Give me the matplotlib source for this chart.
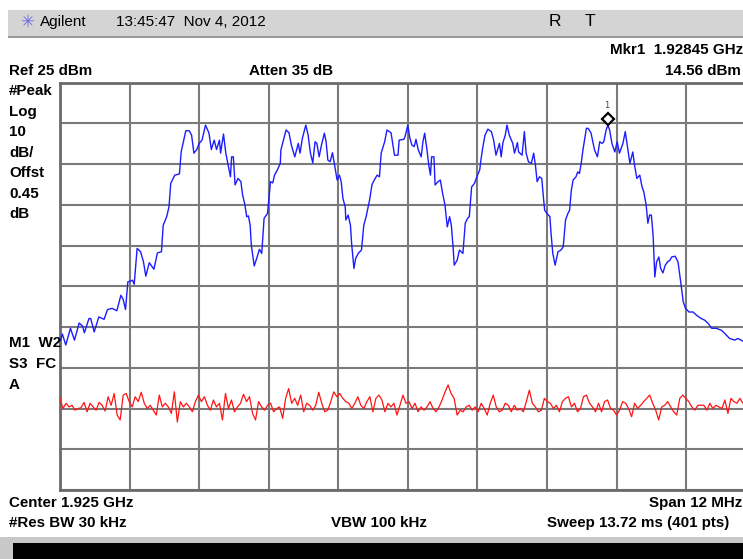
import numpy as np
import matplotlib
matplotlib.use("Agg")
import matplotlib.pyplot as plt
from matplotlib.patches import Rectangle
from matplotlib.transforms import offset_copy

W, H = 743, 559

# ---- instrument settings ----
ref_level = 25.0      # dBm (top of screen)
db_per_div = 10.0
n_div = 10
span_mhz = 12.0       # 1.919 .. 1.931 GHz

# ---- trace 1 (blue): frequency offset from 1.919 GHz in MHz, level in dBm ----
blue_f = [0.01, 0.04, 0.10, 0.18, 0.25, 0.33, 0.39, 0.42, 0.50, 0.53,
          0.59, 0.67, 0.76, 0.82, 0.90, 0.98, 1.05, 1.09, 1.13, 1.17,
          1.25, 1.28, 1.33, 1.39, 1.44, 1.48, 1.54, 1.62, 1.68, 1.75,
          1.78, 1.84, 1.88, 1.91, 1.98, 2.06, 2.09, 2.17, 2.23, 2.27,
          2.31, 2.36, 2.40, 2.45, 2.51, 2.57, 2.61, 2.66, 2.70, 2.75,
          2.77, 2.82, 2.86, 2.90, 2.94, 2.96,
          2.99, 3.02, 3.07, 3.12, 3.15, 3.19, 3.22, 3.25, 3.28, 3.30,
          3.35, 3.40, 3.44, 3.48, 3.52, 3.58, 3.63, 3.67, 3.70, 3.75,
          3.80, 3.81, 3.90, 3.95, 3.99, 4.05, 4.11, 4.14, 4.18, 4.24,
          4.28, 4.32, 4.36, 4.40, 4.43, 4.47, 4.51, 4.56, 4.59, 4.62,
          4.66, 4.70, 4.74, 4.78, 4.82, 4.85, 4.88, 4.92, 4.93, 4.97,
          5.01, 5.03, 5.07, 5.10, 5.15, 5.20, 5.24, 5.28, 5.34, 5.38,
          5.42, 5.47, 5.51, 5.54, 5.60, 5.64, 5.71, 5.77, 5.83, 5.85,
          5.93, 5.95, 6.00, 6.03, 6.07, 6.11, 6.14, 6.18, 6.23, 6.26,
          6.29, 6.33, 6.36, 6.39, 6.41, 6.45, 6.47, 6.52, 6.56, 6.60,
          6.64, 6.68, 6.72, 6.75, 6.78, 6.80, 6.85, 6.89, 6.95, 6.99,
          7.03, 7.06, 7.10, 7.15, 7.19, 7.24, 7.26, 7.29, 7.33, 7.38,
          7.44, 7.48, 7.52, 7.58, 7.61, 7.64, 7.68, 7.71, 7.75, 7.81,
          7.84, 7.89, 7.91, 7.97, 8.01, 8.04, 8.08, 8.13, 8.17, 8.20,
          8.23, 8.27, 8.31, 8.34, 8.36, 8.40, 8.45, 8.47, 8.50, 8.54,
          8.59, 8.64, 8.68, 8.72, 8.76,
          8.79, 8.82, 8.85, 8.90, 8.93, 8.96, 8.99, 9.02, 9.08, 9.11,
          9.16, 9.22, 9.27, 9.31, 9.35, 9.38, 9.42, 9.45, 9.48, 9.52,
          9.57, 9.61, 9.65, 9.71, 9.75, 9.78, 9.83, 9.88, 9.91, 9.95,
          10.00, 10.04, 10.07, 10.11, 10.14, 10.17, 10.20, 10.23, 10.26, 10.29,
          10.33, 10.36, 10.40, 10.44, 10.48, 10.52, 10.55, 10.61, 10.66, 10.71,
          10.75, 10.79, 10.85, 10.92, 10.98, 11.06, 11.12, 11.18, 11.24, 11.32,
          11.41, 11.47, 11.55, 11.64, 11.69, 11.75, 11.78]
blue_db = [-38.2, -36.7, -39.4, -35.3, -38.2, -34.0, -34.8, -36.4, -32.9, -32.9,
           -36.2, -32.5, -33.1, -30.7, -30.4, -31.0, -27.2, -28.2, -30.7, -23.9,
           -23.5, -24.5, -15.7, -16.5, -19.0, -22.5, -19.2, -20.8, -16.8, -16.5,
           -10.0, -7.9, -5.5, 0.3, 2.3, 2.6, 8.0, 13.2, 13.2, 12.1,
           7.7, 8.6, 10.1, 10.9, 14.6, 12.6, 8.6, 10.9, 8.6, 10.9,
           7.7, 12.4, 7.7, 4.8, 1.9, 6.8,
           6.8, -0.1, 1.5, 0.7, -2.6, -5.0, -7.9, -7.7, -10.0, -14.9,
           -20.0, -17.8, -15.9, -16.9, -8.3, -7.1, 0.7, 0.4, 2.3, 3.6,
           5.2, 8.5, 13.4, 12.7, 9.7, 6.8, 10.1, 7.7, 11.3, 14.6,
           12.1, 7.7, 5.3, 10.5, 10.1, 6.8, 9.7, 12.6, 10.5, 6.0,
           5.6, 7.8, 4.4, 1.1, 2.3, 0.7, -3.4, -5.5, -8.7, -7.5,
           -10.0, -14.5, -20.6, -18.1, -16.8, -16.1, -10.0, -7.9, -3.8, -0.1,
           1.1, 2.3, 1.9, 7.7, 10.5, 13.4, 12.7, 7.2, 7.2, 10.9,
           11.1, 11.7, 14.6, 11.7, 9.7, 9.3, 11.1, 8.5, 6.8, 10.5,
           12.6, 8.5, 4.8, 2.3, 6.8, 6.8, -0.1, 0.7, 1.1, -2.2,
           -5.0, -10.4, -7.9, -10.0, -15.3, -19.8, -18.6, -16.1, -16.9, -9.5,
           -8.3, -7.9, -0.6, 0.3, 1.9, 3.6, 6.0, 8.9, 12.1, 13.6,
           13.0, 10.9, 7.2, 10.1, 6.8, 10.3, 12.1, 14.6, 12.1, 10.1,
           7.7, 10.3, 8.0, 7.2, 13.0, 7.7, 5.6, 5.2, 7.7, 4.8,
           0.7, 1.9, 1.5, -3.4, -6.3, -7.1, -7.9, -12.0, -16.9, -19.8,
           -16.5, -16.1, -15.3, -8.7, -7.1,
           -6.3, -1.4, 1.1, 1.9, 3.1, 2.7, 5.2, 8.5, 13.8, 13.8,
           12.6, 8.5, 6.8, 10.5, 10.1, 10.5, 13.4, 14.56, 13.4, 10.1,
           8.0, 10.5, 7.7, 10.1, 13.0, 10.1, 5.2, 8.0, 4.8, 1.5,
           2.3, -0.6, -1.8, -5.0, -9.5, -7.5, -7.5, -12.4, -22.7, -19.0,
           -17.8, -20.6, -21.7, -19.8, -19.0, -18.6, -17.8, -17.6, -19.0, -24.3,
           -28.8, -30.4, -31.3, -31.3, -32.1, -32.9, -33.3, -34.1, -35.3, -35.3,
           -35.8, -36.6, -37.8, -38.2, -37.8, -38.2, -38.5]

# ---- trace 2 (red): levels in dBm across the visible sweep ----
red_db = [-52.5, -55.0, -53.7, -54.6, -54.2, -55.4, -55.0, -54.8, -53.5, -55.8,
          -53.7, -54.6, -55.4, -53.5, -54.2, -55.6, -52.1, -54.2, -51.3, -56.6,
          -57.8, -51.7, -51.3, -53.3, -54.6, -52.1, -53.3, -51.0, -53.7, -55.0,
          -54.2, -55.4, -56.6, -51.7, -54.6, -53.7, -54.6, -56.2, -50.9, -58.3,
          -53.3, -54.6, -53.7, -54.6, -55.8, -53.3, -51.7, -53.3, -52.1, -54.2,
          -55.4, -52.9, -54.6, -53.7, -57.8, -51.3, -55.0, -52.9, -55.8, -54.6,
          -53.7, -51.5, -53.3, -52.1, -56.2, -57.8, -53.3, -54.6, -55.4, -54.2,
          -53.7, -55.8,
          -55.0, -54.6, -57.4, -52.5, -50.1, -53.7, -52.5, -54.2, -51.7, -55.8,
          -53.7, -54.2, -55.4, -54.2, -51.0, -53.7, -55.8, -55.4, -53.3, -50.9,
          -52.1, -51.3, -52.5, -53.3, -53.7, -55.0, -53.7, -52.1, -54.2, -55.0,
          -53.3, -52.1, -55.8, -52.5, -51.7, -52.9, -55.8, -53.7, -54.6, -53.7,
          -56.6, -54.2, -51.7, -53.7, -53.3, -55.0, -53.7, -55.8, -54.6, -55.4,
          -54.6, -53.3, -55.0, -55.8, -54.6, -52.9, -50.9, -49.2, -51.3, -52.5,
          -56.6, -55.4, -55.8, -54.6, -54.2, -55.4, -54.6, -55.8, -53.7, -55.0,
          -56.6, -53.7, -51.7, -54.6, -55.8, -55.4, -53.7, -54.2, -55.8,
          -54.2, -55.4, -55.0, -55.8, -53.3, -50.5, -53.7, -54.6, -55.8, -55.4,
          -52.5, -53.3, -53.7, -55.0, -54.2, -55.8, -53.3, -52.5, -52.1, -54.6,
          -53.7, -55.8, -55.0, -52.1, -51.7, -53.7, -54.6, -55.8, -53.7, -55.8,
          -53.3, -52.9, -55.0, -55.4, -56.6, -55.4, -53.3, -53.7, -55.0, -57.0,
          -53.7, -55.0, -54.2, -53.3, -52.5, -51.7, -53.7, -55.4, -57.8, -54.6,
          -54.2, -53.3, -54.6, -55.8, -56.6, -52.5, -51.7, -52.5, -53.3, -54.6,
          -55.4, -54.2, -54.2, -54.2, -55.4, -53.7, -55.0, -54.2, -54.6, -55.0,
          -52.9, -56.2, -52.5, -53.3, -53.7, -52.5, -53.7]
red_f_start, red_f_end = 0.0, 11.78

marker_f = 9.45       # 1.92845 GHz
marker_db = 14.56

# ---- figure ----
fig = plt.figure(figsize=(W / 100, H / 100), dpi=100)
fig.patch.set_facecolor("white")

def fx(x):
    return x / W

def fy(y):
    return 1 - y / H

def rect(x0, y0, x1, y1, color):
    fig.patches.append(Rectangle((fx(x0), fy(y1)), (x1 - x0) / W, (y1 - y0) / H,
                                 transform=fig.transFigure, facecolor=color,
                                 edgecolor="none", zorder=0))

# header bar
rect(8, 10, 743, 37, "#d4d4d4")
rect(8, 36, 743, 38, "#9a9a9a")
# bottom status bar
rect(0, 537, 743, 559, "#c8c8c8")
rect(13, 543, 743, 559, "#000000")

FONT = "Liberation Sans"
hdr = dict(fontsize=11, family=FONT, va="center", color="black")
fig.text(fx(20), fy(22), "\u2733", fontsize=12, family="DejaVu Sans",
         color="#6a6ae8", va="center")
fig.text(fx(40), fy(22), "Agilent", **hdr)
fig.text(fx(116), fy(22), "13:45:47  Nov 4, 2012", **hdr)
fig.text(fx(549), fy(22), "R", fontsize=12.5, family=FONT, va="center")
fig.text(fx(585), fy(22), "T", fontsize=12.5, family=FONT, va="center")

b = dict(fontsize=10.9, family=FONT, weight="bold", va="center", color="black")
fig.text(fx(743), fy(50), "Mkr1  1.92845 GHz", ha="right", **b)
fig.text(fx(9), fy(71), "Ref 25 dBm", **b)
fig.text(fx(249), fy(71), "Atten 35 dB", **b)
fig.text(fx(741), fy(71), "14.56 dBm", ha="right", **b)
for yy, s in [(91, "#Peak"), (112, "Log"), (132, "10"), (153, "dB/"),
              (173, "Offst"), (194, "0.45"), (214, "dB")]:
    fig.text(fx(9), fy(yy), s, **b)
fig.text(fx(9), fy(343), "M1  W2", **b)
fig.text(fx(9), fy(364), "S3  FC", **b)
fig.text(fx(9), fy(385), "A", **b)
fig.text(fx(9), fy(503), "Center 1.925 GHz", **b)
fig.text(fx(742), fy(503), "Span 12 MHz", ha="right", **b)
fig.text(fx(9), fy(523), "#Res BW 30 kHz", **b)
fig.text(fx(331), fy(523), "VBW 100 kHz", **b)
fig.text(fx(547), fy(523), "Sweep 13.72 ms (401 pts)", **b)

# ---- graticule axes (right side extends past the screenshot edge) ----
left_px, top_px, bot_px = 60.0, 82.7, 490.0
width_px = 695.7
ax = fig.add_axes([fx(left_px), fy(bot_px), width_px / W, (bot_px - top_px) / H])
ax.set_xlim(0, span_mhz)
ax.set_ylim(ref_level - n_div * db_per_div, ref_level)
ax.set_xticks(np.linspace(0, span_mhz, n_div + 1))
ax.set_yticks(np.arange(ref_level - n_div * db_per_div, ref_level + 0.1, db_per_div))
ax.grid(True, color="#7a7a7a", lw=1.5)
ax.set_axisbelow(True)
ax.tick_params(length=0, labelbottom=False, labelleft=False)
for s in ax.spines.values():
    s.set_color("#6a6a6a")
    s.set_linewidth(2.0)

ax.plot(blue_f, blue_db, color="#1c1cff", lw=1.0, zorder=3)
red_f = np.linspace(red_f_start, red_f_end, len(red_db))
ax.plot(red_f, red_db, color="#ff1414", lw=0.9, zorder=3)

tr_m = offset_copy(ax.transData, fig=fig, x=0, y=6, units="dots")
ax.plot([marker_f], [marker_db], marker="D", ms=6.5, mfc="white", mec="black",
        mew=1.6, transform=tr_m, zorder=4, clip_on=False)
tr_l = offset_copy(ax.transData, fig=fig, x=0, y=20, units="dots")
ax.text(marker_f, marker_db, "1", transform=tr_l, fontsize=6, family="DejaVu Sans Mono",
        color="#404050", ha="center", va="center", zorder=4)

fig.savefig("out.png", dpi=100)
